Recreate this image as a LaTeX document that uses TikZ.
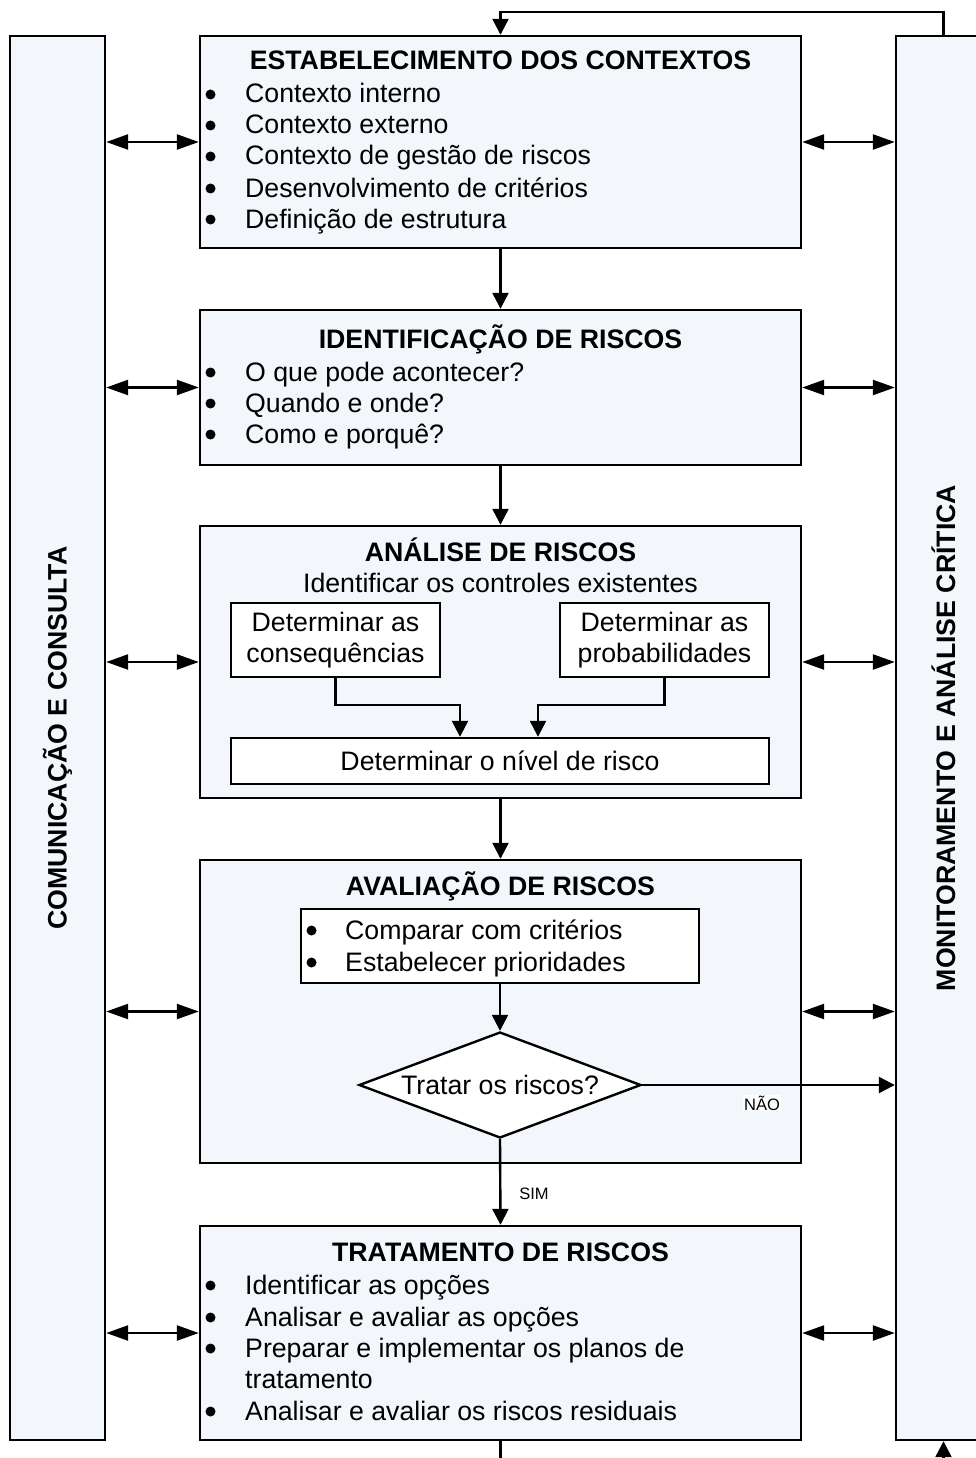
\documentclass[tikz,border=0pt]{standalone}
\usepackage{fontspec}
\setmainfont{Liberation Sans}
\usetikzlibrary{arrows.meta,shapes.geometric}
\definecolor{bgfill}{RGB}{243,246,250}
\newcommand\bodyfs{\fontsize{26.7}{31}\selectfont}
\newcommand\smallfs{\fontsize{16.5}{19}\selectfont}
\tikzset{
 box/.style={draw, line width=2.4pt, fill=bgfill, inner sep=0pt},
 inbox/.style={draw, line width=2.4pt, fill=white, inner sep=0pt, font=\bodyfs, align=center},
 txt/.style={inner sep=0pt, anchor=base west, font=\bodyfs},
 ttl/.style={inner sep=0pt, anchor=base, font=\bfseries\bodyfs},
 bul/.style={inner sep=0pt, anchor=base, font=\bodyfs},
 dot/.style={circle, fill=black, inner sep=0pt, minimum size=10pt, yshift=8.5pt},
 side/.style={inner sep=0pt, rotate=90, font=\bfseries\bodyfs},
 arr/.style={line width=2.4pt, -{Triangle[length=16pt,width=16pt]}},
 dbl/.style={line width=2.4pt, {Triangle[length=22pt,width=15pt]}-{Triangle[length=22pt,width=15pt]}},
 lbl/.style={inner sep=1pt, font=\smallfs},
}
\begin{document}
\begin{tikzpicture}[x=1pt,y=-1pt]
\useasboundingbox[fill=white] (0,0) rectangle (975,1458);
% side columns
\node[box, minimum width=95pt, minimum height=1404pt] (L) at (57.5,738) {};
\node[side] (Lt) at (57.5,738) {COMUNICAÇÃO E CONSULTA};
\node[box, minimum width=95pt, minimum height=1404pt] (R) at (943.5,738) {};
\node[side] (Rt) at (943.5,738) {MONITORAMENTO E ANÁLISE CRÍTICA};
% main boxes
\node[box, minimum width=601pt, minimum height=212pt] (b1) at (500.5,142) {};
\node[box, minimum width=601pt, minimum height=155pt] (b2) at (500.5,387.5) {};
\node[box, minimum width=601pt, minimum height=272pt] (b3) at (500.5,662) {};
\node[box, minimum width=601pt, minimum height=303pt] (b4) at (500.5,1011.5) {};
\node[box, minimum width=601pt, minimum height=214pt] (b5) at (500.5,1333) {};
% box 1 text
\node[ttl] (t1) at (500.5,70) {ESTABELECIMENTO DOS CONTEXTOS};
\node[dot] (p1a) at (210.5,103) {}; \node[txt] (l1a) at (245,103) {Contexto interno};
\node[dot] (p1b) at (210.5,134) {}; \node[txt] (l1b) at (245,134) {Contexto externo};
\node[dot] (p1c) at (210.5,165) {}; \node[txt] (l1c) at (245,165) {Contexto de gestão de riscos};
\node[dot] (p1d) at (210.5,197) {}; \node[txt] (l1d) at (245,197) {Desenvolvimento de critérios};
\node[dot] (p1e) at (210.5,228) {}; \node[txt] (l1e) at (245,228) {Definição de estrutura};
% box 2 text
\node[ttl] (t2) at (500.5,348) {IDENTIFICAÇÃO DE RISCOS};
\node[dot] (p2a) at (210.5,381) {}; \node[txt] (l2a) at (245,381) {O que pode acontecer?};
\node[dot] (p2b) at (210.5,412) {}; \node[txt] (l2b) at (245,412) {Quando e onde?};
\node[dot] (p2c) at (210.5,443) {}; \node[txt] (l2c) at (245,443) {Como e porquê?};
% box 3
\node[ttl] (t3) at (500.5,561) {ANÁLISE DE RISCOS};
\node[bul] (s3) at (500.5,592) {Identificar os controles existentes};
\node[inbox, minimum width=209pt, minimum height=74pt] (c1) at (335.5,640) {Determinar as\\consequências};
\node[inbox, minimum width=209pt, minimum height=74pt] (c2) at (664.5,640) {Determinar as\\probabilidades};
\node[inbox, minimum width=538pt, minimum height=46pt] (c3) at (500,761) {Determinar o nível de risco};
\coordinate (j1) at (460,705);
\coordinate (j2) at (538,705);
\draw[arr] (c1.south) |- (j1) -- (j1 |- c3.north);
\draw[arr] (c2.south) |- (j2) -- (j2 |- c3.north);
% box 4
\node[ttl] (t4) at (500.5,895) {AVALIAÇÃO DE RISCOS};
\node[inbox, minimum width=398pt, minimum height=74pt] (e1) at (500,946) {};
\node[dot] (p4a) at (311.5,939) {}; \node[txt] (l4a) at (345,939) {Comparar com critérios};
\node[dot] (p4b) at (311.5,971) {}; \node[txt] (l4b) at (345,971) {Estabelecer prioridades};
\node[diamond, draw, line width=2.4pt, fill=white, inner sep=0pt, aspect=2.66,
      minimum width=282pt, minimum height=106pt, font=\bodyfs] (d) at (500,1085) {Tratar os riscos?};
\draw[arr] (e1.south) -- (d.north);
\draw[arr] (d.east) -- (R.west |- d.east);
\node[lbl, fill=white] (nao) at (762,1103) {NÃO};
\draw[arr] (d.south) -- (b5.north);
\node[lbl] (sim) at (534,1194) {SIM};
% box 5
\node[ttl] (t5) at (500.5,1261) {TRATAMENTO DE RISCOS};
\node[dot] (p5a) at (210.5,1294) {}; \node[txt] (l5a) at (245,1294) {Identificar as opções};
\node[dot] (p5b) at (210.5,1326) {}; \node[txt] (l5b) at (245,1326) {Analisar e avaliar as opções};
\node[dot] (p5c) at (210.5,1357) {}; \node[txt] (l5c) at (245,1357) {Preparar e implementar os planos de};
\node[txt] (l5d) at (245,1388) {tratamento};
\node[dot] (p5e) at (210.5,1420) {}; \node[txt] (l5e) at (245,1420) {Analisar e avaliar os riscos residuais};
% vertical flow
\draw[arr] (b1.south) -- (b2.north);
\draw[arr] (b2.south) -- (b3.north);
\draw[arr] (b3.south) -- (b4.north);
% double arrows
\foreach \b in {b1,b2,b3,b4,b5}{
  \draw[dbl] (L.east |- \b.west) -- (\b.west);
  \draw[dbl] (\b.east) -- (R.west |- \b.east);
}
% feedback loop
\coordinate (ftop) at (500.5,12);
\draw[arr] (R.north) |- (ftop) -- (b1.north);
\coordinate (fb1) at (500.5,1462);
\coordinate (fb2) at (943.5,1462);
\draw[line width=2.4pt] (b5.south) -- (fb1);
\draw[arr] (fb2) -- (R.south);
\end{tikzpicture}
\end{document}
